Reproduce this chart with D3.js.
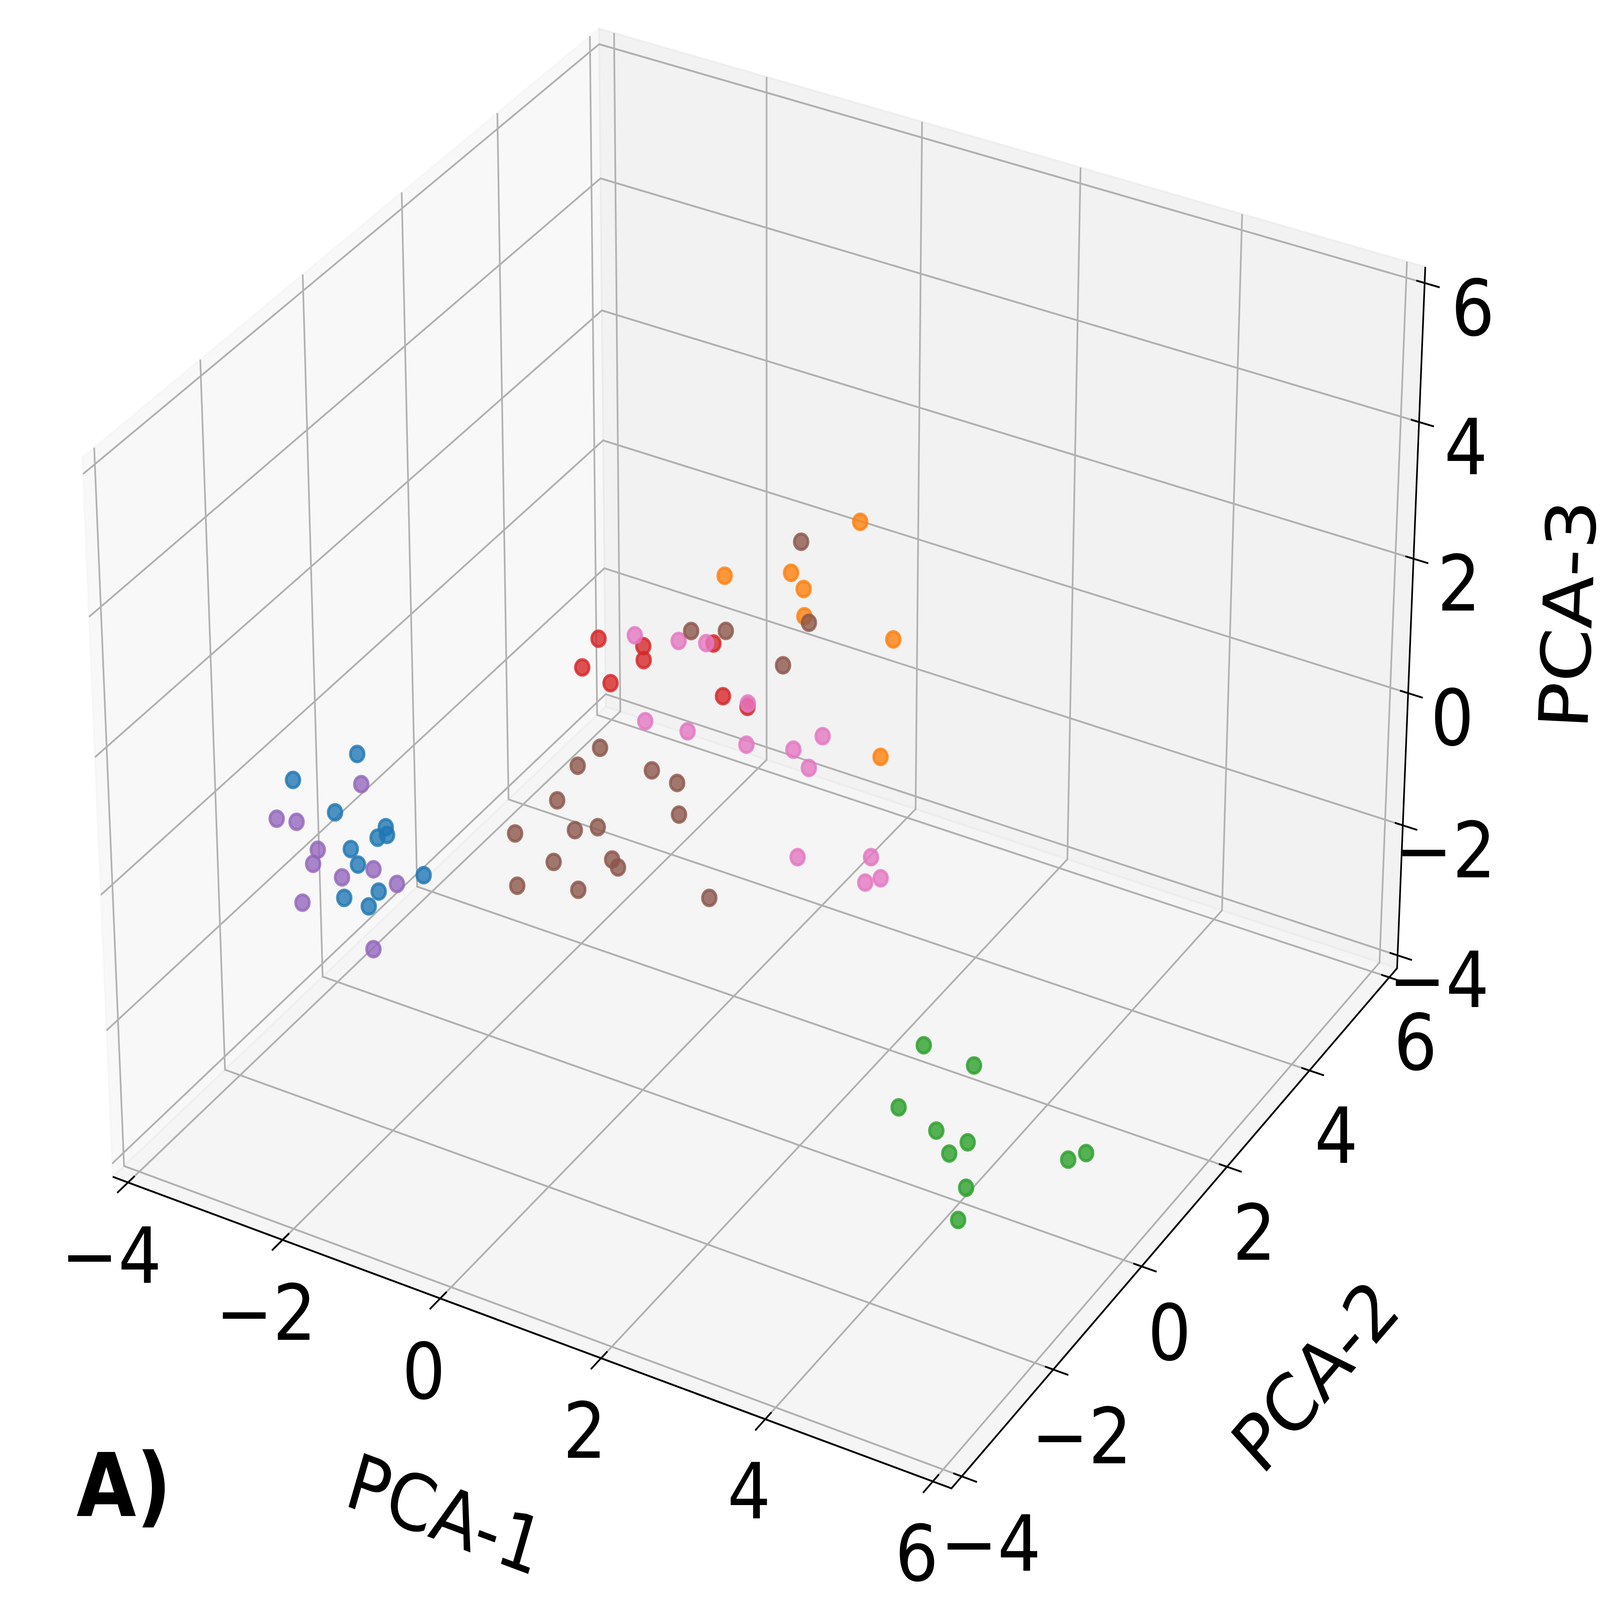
<!DOCTYPE html>
<html>
<head>
<meta charset="utf-8">
<script src="https://cdn.jsdelivr.net/npm/d3@7"></script>
<style>
html, body { margin: 0; background: #fff; overflow: hidden; }
text { font-family: "DejaVu Sans"; fill: #000; }
</style>
</head>
<body>
<script>
// PCA scores, one x / y / z list per group
var blueX = [-3.67,-4.30,-3.70,-3.27,-3.04,-3.31,-3.59,-3.50,-3.10,-3.30,-3.43,-3.45];
var blueY = [0.02,-0.33,-0.41,-0.05,-0.38,-0.16,-0.28,-0.28,0.44,-0.18,-0.68,-0.16];
var blueZ = [-0.6,-1.0,-1.2,-1.5,-1.3,-1.6,-1.8,-2.0,-2.5,-2.4,-2.2,-2.7];
var orangeX = [1.25,-0.31,0.36,0.44,0.45,1.33,1.63];
var orangeY = [2.61,2.35,2.65,2.79,2.79,3.23,2.42];
var orangeZ = [3.0,1.8,1.9,1.6,1.2,0.9,-0.2];
var greenX = [3.04,3.52,3.23,3.67,4.23,3.93,4.32,4.46,5.20,5.42];
var greenY = [0.90,1.17,0.00,0.05,-0.27,-0.13,-0.46,-0.89,0.21,0.20];
var greenZ = [-2.9,-3.2,-3.1,-3.3,-3.0,-3.4,-3.5,-3.6,-3.2,-3.0];
var redX = [-1.84,-1.47,-1.46,-1.91,-1.75,-0.55,-0.40,-0.19];
var redY = [2.18,2.53,2.52,1.94,2.28,2.51,2.46,2.64];
var redZ = [0.4,0.2,0.0,0.1,-0.3,0.6,-0.1,-0.3];
var purpleX = [-3.60,-3.98,-3.90,-3.69,-3.73,-3.44,-3.73,-3.27,-3.92,-3.31];
var purpleY = [-0.02,-1.15,-0.88,-0.79,-0.83,-0.06,-0.26,0.15,-0.78,-0.30];
var purpleZ = [-1.0,-0.9,-1.1,-1.5,-1.7,-2.2,-2.3,-2.5,-2.4,-3.2];
var pinkX = [-1.32,-0.91,-0.69,-0.22,-1.50,-1.12,-0.35,0.09,0.37,0.29,0.41,1.00,1.17,1.00];
var pinkY = [2.10,2.36,2.59,2.70,2.61,2.90,2.89,3.18,3.35,3.18,2.72,3.35,3.27,3.22];
var pinkZ = [0.7,0.6,0.5,-0.3,-1.0,-1.2,-1.1,-1.2,-1.0,-1.4,-2.4,-2.6,-2.8,-2.9];
var brownX = [-2.14,-2.31,-1.34,-1.10,-2.36,-0.90,-2.02,-1.76,-2.77,-2.04,-1.43,-1.36,-2.42,-1.72,-0.18,0.35,0.36,-0.89,-0.49,0.07];
var brownY = [2.68,2.47,2.48,2.63,2.10,2.33,1.92,1.99,1.85,1.49,1.75,1.76,1.32,1.49,1.77,2.89,3.05,2.60,2.68,2.98];
var brownZ = [-1.7,-1.9,-1.6,-1.8,-2.2,-2.0,-2.4,-2.3,-2.7,-2.6,-2.5,-2.6,-3.0,-2.9,-2.6,2.2,0.9,0.6,0.7,0.2];

var groups = [
    {color: "#1f77b4", x: blueX, y: blueY, z: blueZ},
    {color: "#ff7f0e", x: orangeX, y: orangeY, z: orangeZ},
    {color: "#2ca02c", x: greenX, y: greenY, z: greenZ},
    {color: "#d62728", x: redX, y: redY, z: redZ},
    {color: "#9467bd", x: purpleX, y: purpleY, z: purpleZ},
    {color: "#e377c2", x: pinkX, y: pinkY, z: pinkZ},
    {color: "#8c564b", x: brownX, y: brownY, z: brownZ}
];

var tickValues = [-4, -2, 0, 2, 4, 6];
var xlim = [-4.2, 6.22], ylim = [-4.22, 6.2], zlim = [-4.2, 6.23];

// the window may come out smaller than asked, so draw in a fixed viewBox
var width = 4875, height = 4290;
var svg = d3.select("body").append("svg")
    .attr("viewBox", "0 0 " + width + " " + height)
    .attr("preserveAspectRatio", "none")
    .style("width", "100vw")
    .style("height", "100vh")
    .style("display", "block");

// camera, elev 30 azim -60 like the default 3d axes
var el = 30 * Math.PI / 180, az = -60 * Math.PI / 180, dist = 10;
var k = 1.8294640721620434 * 25 / 24 / Math.sqrt(41);
var box = [4 * k, 4 * k, 3 * k];
var w = [Math.cos(el) * Math.cos(az), Math.cos(el) * Math.sin(az), Math.sin(el)];
var eye = [box[0] / 2 + dist * w[0], box[1] / 2 + dist * w[1], box[2] / 2 + dist * w[2]];

function cross(a, b) {
    return [a[1] * b[2] - a[2] * b[1], a[2] * b[0] - a[0] * b[2], a[0] * b[1] - a[1] * b[0]];
}
function dot(a, b) {
    return a[0] * b[0] + a[1] * b[1] + a[2] * b[2];
}
var u = cross([0, 0, 1], w);
var ulen = Math.sqrt(dot(u, u));
u = u.map(function (d) { return d / ulen; });
var v = cross(w, u);

var boxX = d3.scaleLinear().domain(xlim).range([0, box[0]]);
var boxY = d3.scaleLinear().domain(ylim).range([0, box[1]]);
var boxZ = d3.scaleLinear().domain(zlim).range([0, box[2]]);

function camera(x, y, z) {
    var d = [boxX(x) - eye[0], boxY(y) - eye[1], boxZ(z) - eye[2]];
    var s = -dot(w, d);
    return [dot(u, d) / s, dot(v, d) / s];
}

// screen scales, pinned on the outer corners of the box
var screenX = d3.scaleLinear()
    .domain([camera(xlim[0], ylim[0], zlim[1])[0], camera(xlim[1], ylim[1], zlim[1])[0]])
    .range([250.7, 4342.7]);
var screenY = d3.scaleLinear()
    .domain([camera(xlim[1], ylim[0], zlim[0])[1], camera(xlim[0], ylim[1], zlim[1])[1]])
    .range([3990.7, 76.7]);

function project(x, y, z) {
    var p = camera(x, y, z);
    return [screenX(p[0]), screenY(p[1])];
}

var line = d3.line();
function path3d(points) {
    return line(points.map(function (p) { return project(p[0], p[1], p[2]); }));
}

var x0 = xlim[0], x1 = xlim[1], y0 = ylim[0], y1 = ylim[1], z0 = zlim[0], z1 = zlim[1];

// panes
var panes = [
    {fill: "rgb(242,242,242)", pts: [[x0, y0, z0], [x0, y1, z0], [x0, y1, z1], [x0, y0, z1]]},
    {fill: "rgb(230,230,230)", pts: [[x0, y1, z0], [x1, y1, z0], [x1, y1, z1], [x0, y1, z1]]},
    {fill: "rgb(236,236,236)", pts: [[x0, y0, z0], [x1, y0, z0], [x1, y1, z0], [x0, y1, z0]]}
];
panes.forEach(function (p) {
    svg.append("path")
        .attr("d", path3d(p.pts) + "Z")
        .attr("fill", p.fill)
        .attr("fill-opacity", 0.5)
        .attr("stroke", p.fill)
        .attr("stroke-opacity", 0.5)
        .attr("stroke-width", 5);
});

// grid
var grid = svg.append("g").attr("fill", "none").attr("stroke", "#b0b0b0").attr("stroke-width", 5);
tickValues.forEach(function (t) {
    grid.append("path").attr("d", path3d([[t, y0, z0], [t, y1, z0], [t, y1, z1]]));
    grid.append("path").attr("d", path3d([[x0, t, z1], [x0, t, z0], [x1, t, z0]]));
    grid.append("path").attr("d", path3d([[x0, y0, t], [x0, y1, t], [x1, y1, t]]));
});

// axis lines and ticks
var axes = svg.append("g").attr("fill", "none").attr("stroke", "#000").attr("stroke-width", 5);
axes.append("path").attr("d", path3d([[x0, y0, z0], [x1, y0, z0], [x1, y1, z0], [x1, y1, z1]]));
tickValues.forEach(function (t) {
    axes.append("path").attr("d", path3d([[t, y0 + 0.13, z0], [t, y0 - 0.21, z0]]));
    axes.append("path").attr("d", path3d([[x1 - 0.1, t, z0], [x1 + 0.18, t, z0]]));
    axes.append("path").attr("d", path3d([[x1 - 0.1, y1, t], [x1 + 0.18, y1, t]]));
});

// tick labels, offset from where the tick meets its axis
var fmt = d3.format("d");
var tickFont = 208;
function tickLabels(anchor, dx, dy) {
    svg.append("g").selectAll("text")
        .data(tickValues)
        .join("text")
        .attr("font-size", tickFont)
        .attr("text-anchor", "middle")
        .attr("x", function (t) { return anchor(t)[0] + dx(t); })
        .attr("y", function (t) { return anchor(t)[1] + dy(t) + 0.3645 * tickFont; })
        .text(function (t) { return fmt(t); });
}
var tickRange = [tickValues[0], tickValues[tickValues.length - 1]];
function off(a, b) { return d3.scaleLinear().domain(tickRange).range([a, b]); }
tickLabels(function (t) { return project(t, y0, z0); }, off(-51, -49), off(193, 190));
tickLabels(function (t) { return project(x1, t, z0); }, off(88, 80), off(177, 171));
tickLabels(function (t) { return project(x1, y1, t); }, off(126, 147), off(63, 64));

// axis titles
function axisTitle(label, x, y, angle) {
    svg.append("text")
        .attr("font-size", tickFont)
        .attr("text-anchor", "middle")
        .attr("transform", "translate(" + x + "," + y + ") rotate(" + angle + ")")
        .text(label);
}
axisTitle("PCA-1", 1335, 4130, 18.2);
axisTitle("PCA-2", 4060, 3740, -45.7);
axisTitle("PCA-3", 4850, 1650, -87.5);

// points
groups.forEach(function (g) {
    svg.append("g").selectAll("circle")
        .data(g.x.map(function (d, i) { return project(d, g.y[i], g.z[i]); }))
        .join("circle")
        .attr("cx", function (d) { return d[0]; })
        .attr("cy", function (d) { return d[1]; })
        .attr("r", 21)
        .attr("fill", g.color)
        .attr("fill-opacity", 0.8)
        .attr("stroke", g.color)
        .attr("stroke-opacity", 0.8)
        .attr("stroke-width", 8);
});

svg.append("text")
    .attr("x", 233)
    .attr("y", 4065)
    .attr("font-size", 235)
    .attr("font-weight", "bold")
    .text("A)");
</script>
</body>
</html>
